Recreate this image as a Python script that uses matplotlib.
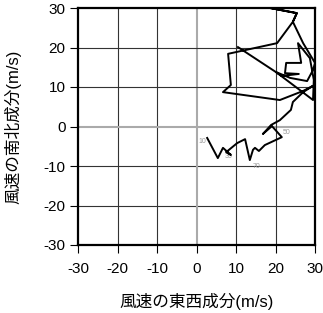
import matplotlib
matplotlib.use("Agg")
from matplotlib import pyplot as plt
import numpy as np

plt.rcParams['font.family'] = ['Liberation Sans', 'Noto Sans CJK JP', 'DejaVu Sans']

# wind components (m/s), traced along the hodograph
u = [10.5, 21.6, 25.9, 22.4, 22.7, 26.5, 25.7, 28.7, 29.7, 29.5,
     26.2, 20.1, 23.7, 28.0, 29.5, 30.0, 27.0, 24.4, 25.4, 18.6,
     25.4, 24.4, 20.4, 8.0, 8.7, 6.7, 21.1, 27.0, 29.5, 27.0,
     24.4, 23.9, 21.1, 18.9, 16.8, 19.1, 21.6, 17.3, 15.8, 14.8,
     14.3, 13.5, 12.3, 10.3, 7.5, 8.7, 6.7, 5.4, 2.7]
v = [20.1, 12.8, 13.3, 13.5, 16.1, 16.1, 21.1, 17.3, 11.8, 6.7,
     9.2, 13.8, 12.3, 11.5, 14.3, 16.1, 21.1, 26.5, 28.7, 30.0,
     28.7, 26.5, 21.1, 18.4, 10.5, 8.7, 6.7, 9.0, 10.3, 8.7,
     6.2, 4.2, 1.6, 0.4, -1.9, 0.1, -2.7, -4.7, -6.2, -5.4,
     -5.9, -8.5, -3.2, -4.2, -6.5, -7.2, -5.4, -8.0, -2.9]

# level labels
lev_names = ['10', '30', '50', '70']
lev_u = [1.6, 8.2, 22.7, 15.3]
lev_v = [-3.9, -7.5, -1.4, -10.0]

ticks = [-30, -20, -10, 0, 10, 20, 30]

fig = plt.figure(figsize=(3.23, 3.13), dpi=100)
ax = fig.add_axes([78/323, 1-245/313, 237/323, 237/313])
ax.set_xlim(-30, 30)
ax.set_ylim(-30, 30)

for t in ticks[1:-1]:
    if t == 0:
        ax.axvline(t, color='#aaaaaa', lw=1.5, zorder=1)
        ax.axhline(t, color='#aaaaaa', lw=1.5, zorder=1)
    else:
        ax.axvline(t, color='#333333', lw=0.8, zorder=1)
        ax.axhline(t, color='#333333', lw=0.8, zorder=1)

ax.plot(u, v, color='black', lw=1.4, zorder=3)

for name, x, y in zip(lev_names, lev_u, lev_v):
    ax.text(x, y, name, fontsize=5, color='#999999', ha='center', va='center', zorder=2)

for s in ax.spines.values():
    s.set_linewidth(1.6)
    s.set_zorder(4)

ax.set_xticks(ticks)
ax.set_yticks(ticks)
ax.set_xticklabels([str(t) for t in ticks])
ax.set_yticklabels([str(t) for t in ticks])
ax.tick_params(axis='x', direction='out', length=6, width=0.8, pad=6, labelsize=11)
ax.tick_params(axis='y', direction='out', length=6, width=0.8, pad=3, labelsize=11)

ax.set_xlabel('風速の東西成分(m/s)', fontsize=12, va='center')
ax.set_ylabel('風速の南北成分(m/s)', fontsize=12, va='center')
ax.xaxis.set_label_coords(0.5, (245-302)/237)
ax.yaxis.set_label_coords((13-78)/237, 0.5)

fig.savefig('out.png', dpi=100)
